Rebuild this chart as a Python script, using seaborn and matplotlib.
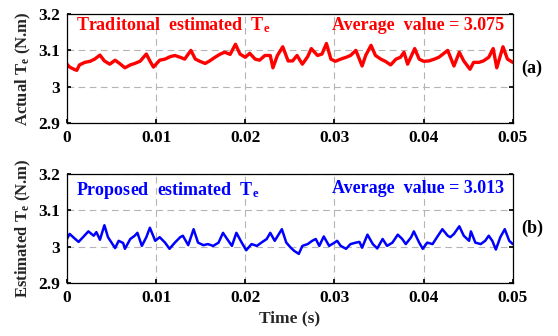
import numpy as np
import pandas as pd
import seaborn as sns
import matplotlib.pyplot as plt

# traditional estimated torque (panel a)
time_a = [0, 0.0003, 0.0008, 0.0011, 0.0014, 0.002, 0.0026, 0.0031, 0.0037, 0.0042,
          0.0048, 0.0054, 0.0059, 0.0065, 0.0071, 0.0076, 0.0082, 0.0089, 0.0093, 0.0097,
          0.0104, 0.011, 0.0116, 0.0121, 0.0127, 0.0132, 0.0139, 0.0144, 0.0149, 0.0155,
          0.016, 0.0166, 0.0172, 0.0177, 0.0183, 0.0189, 0.0194, 0.02, 0.0205, 0.0211,
          0.0216, 0.0222, 0.0228, 0.0231, 0.0236, 0.0242, 0.0248,
          0.0253, 0.0258, 0.0264, 0.027, 0.0274, 0.0281, 0.0286, 0.0291, 0.0296, 0.0301,
          0.0307, 0.0313, 0.0318, 0.0324, 0.0331, 0.0335, 0.0341, 0.0346, 0.0352, 0.0357,
          0.0363, 0.0369, 0.0374, 0.0378, 0.0382, 0.039, 0.0395, 0.04, 0.0406, 0.0412,
          0.0417, 0.0427, 0.0434, 0.044, 0.0445, 0.0452, 0.0456, 0.0462, 0.0467, 0.0473,
          0.0478, 0.0482, 0.0489, 0.0494, 0.05]
torque_a = [3.062, 3.054, 3.048, 3.045, 3.060, 3.067, 3.070, 3.076, 3.087, 3.071,
            3.062, 3.073, 3.064, 3.052, 3.060, 3.064, 3.070, 3.090, 3.071, 3.054,
            3.073, 3.076, 3.083, 3.086, 3.081, 3.076, 3.100, 3.076, 3.070, 3.064,
            3.071, 3.081, 3.090, 3.095, 3.089, 3.117, 3.090, 3.081, 3.092, 3.076,
            3.073, 3.086, 3.086, 3.052, 3.086, 3.110, 3.071,
            3.071, 3.086, 3.062, 3.083, 3.105, 3.086, 3.090, 3.119, 3.076, 3.070,
            3.076, 3.081, 3.086, 3.100, 3.057, 3.086, 3.114, 3.086, 3.076, 3.070,
            3.060, 3.076, 3.081, 3.095, 3.062, 3.105, 3.076, 3.070, 3.071, 3.076,
            3.081, 3.100, 3.057, 3.095, 3.071, 3.048, 3.067, 3.067, 3.071, 3.081,
            3.105, 3.052, 3.110, 3.076, 3.067]

# proposed estimated torque (panel b)
time_b = [0, 0.0003, 0.0007, 0.0013, 0.0018, 0.0024, 0.003, 0.0033, 0.0037, 0.0042,
          0.0046, 0.0054, 0.0058, 0.0063, 0.0065, 0.0071, 0.0076, 0.0079, 0.0084, 0.0089,
          0.0093, 0.0099, 0.0104, 0.011, 0.0115, 0.0121, 0.0127, 0.013, 0.0136, 0.0142,
          0.0147, 0.0153, 0.0158, 0.0164, 0.017, 0.0175, 0.0181, 0.0185, 0.019, 0.0196,
          0.0201, 0.0207, 0.0213, 0.0218, 0.0224, 0.0228, 0.0233, 0.0241, 0.0246,
          0.0251, 0.0255, 0.026, 0.0264, 0.027, 0.0275, 0.0279, 0.0283, 0.0288, 0.0294,
          0.03, 0.0303, 0.0307, 0.0313, 0.0318, 0.0324, 0.0328, 0.0331, 0.0337, 0.0343,
          0.0348, 0.0354, 0.0359, 0.0365, 0.0371, 0.0376, 0.038, 0.0386, 0.0389, 0.0395,
          0.0399, 0.0404, 0.041, 0.0415, 0.0421, 0.0427, 0.043, 0.0434, 0.044, 0.0445,
          0.0451, 0.0453, 0.0458, 0.0464, 0.0469, 0.0473, 0.0477, 0.0481, 0.0486, 0.0491,
          0.0496, 0.05]
torque_b = [3.021, 3.035, 3.026, 3.013, 3.026, 3.042, 3.030, 3.040, 3.019, 3.059,
            3.026, 2.996, 3.016, 3.010, 2.994, 3.021, 3.030, 3.038, 3.002, 3.026,
            3.052, 3.016, 3.026, 3.011, 2.994, 3.011, 3.026, 3.030, 3.004, 3.048,
            3.011, 3.004, 3.007, 3.002, 3.011, 3.038, 3.016, 3.002, 3.038, 3.011,
            2.990, 3.007, 3.002, 3.011, 3.021, 3.038, 3.016, 3.048, 3.011,
            2.997, 2.988, 2.980, 3.002, 3.007, 3.016, 3.021, 3.002, 3.028, 3.002,
            3.011, 3.016, 3.002, 2.994, 3.007, 3.011, 3.013, 2.997, 3.033, 3.007,
            2.995, 3.021, 3.002, 3.011, 3.033, 3.021, 3.007, 3.026, 3.042, 3.011,
            2.994, 3.011, 3.007, 3.026, 3.048, 3.030, 3.026, 3.035, 3.056, 3.030,
            3.016, 3.042, 3.011, 3.007, 3.016, 3.030, 3.016, 2.992, 3.026, 3.048,
            3.016, 3.007]

x_ticks = [0, 0.01, 0.02, 0.03, 0.04, 0.05]
x_labels = ['0', '0.01', '0.02', '0.03', '0.04', '0.05']
y_ticks = [2.9, 3.0, 3.1, 3.2]
y_labels = ['2.9', '3', '3.1', '3.2']

sns.set_theme(style='ticks')
plt.rcParams['font.family'] = ['Liberation Serif', 'DejaVu Serif']
plt.rcParams['font.weight'] = 'bold'
plt.rcParams['mathtext.fontset'] = 'custom'
plt.rcParams['mathtext.rm'] = 'Liberation Serif:bold'
plt.rcParams['mathtext.it'] = 'Liberation Serif:bold'
plt.rcParams['mathtext.bf'] = 'Liberation Serif:bold'

fig = plt.figure(figsize=(5.58, 3.36), dpi=100)
ax1 = fig.add_axes([0.120, 0.634, 0.799, 0.324])
ax2 = fig.add_axes([0.120, 0.158, 0.799, 0.324])

panels = [
    (ax1, time_a, torque_a, '#ff0000', 'Actual T$_\\mathrm{e}$ (N.m)',
     'Traditonal  estimated  T$_\\mathrm{e}$', 'Average  value = 3.075', '(a)',
     2.4, 0.895, 0.895),
    (ax2, time_b, torque_b, '#0000ff', 'Estimated T$_\\mathrm{e}$ (N.m)',
     'Proposed  estimated  T$_\\mathrm{e}$', 'Average  value = 3.013', '(b)',
     1.8, 0.85, 0.87),
]

for ax, t, v, col, ylab, name, avg, tag, lw, y_name, y_avg in panels:
    df = pd.DataFrame({'t': t, 'v': v})
    sns.lineplot(data=df, x='t', y='v', ax=ax, color=col, linewidth=lw)
    ax.set_xlim(0, 0.05)
    ax.set_ylim(2.9, 3.2)
    ax.set_xticks(x_ticks)
    ax.set_xticklabels(x_labels)
    ax.set_yticks(y_ticks)
    ax.set_yticklabels(y_labels)
    ax.grid(True, color='#b4b4b4', linestyle=(0, (6, 4)), linewidth=0.8)
    ax.tick_params(direction='in', length=3, labelsize=12.5, colors='black',
                   top=False, right=True, pad=5)
    for s in ax.spines.values():
        s.set_visible(True)
        s.set_color('black')
        s.set_linewidth(0.9)
    ax.set_xlabel('')
    ax.set_ylabel(ylab, fontsize=12, fontweight='bold', labelpad=4)
    ax.text(0.02, y_name, name, transform=ax.transAxes, color=col, fontsize=13,
            fontweight='bold', va='center', ha='left')
    ax.text(0.98, y_avg, avg, transform=ax.transAxes, color=col, fontsize=13,
            fontweight='bold', va='center', ha='right')
    ax.text(1.02, 0.5, tag, transform=ax.transAxes, color='black', fontsize=13,
            fontweight='bold', va='center', ha='left')

ax2.set_xlabel('Time (s)', fontsize=12.5, fontweight='bold', labelpad=3)

fig.savefig('out.png', dpi=100)
